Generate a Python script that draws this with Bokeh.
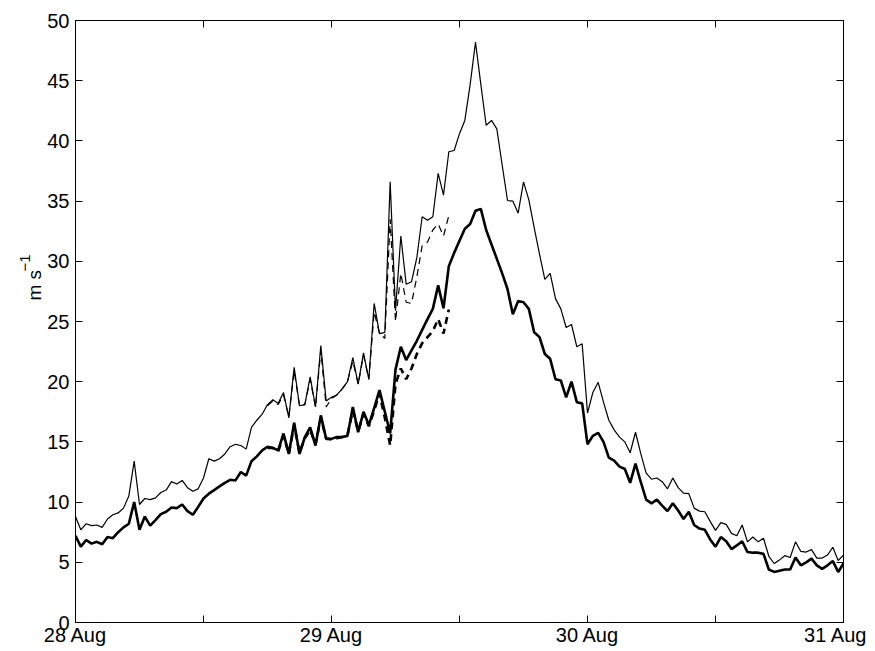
from bokeh.plotting import figure
from bokeh.models import FixedTicker, LinearAxis, Range1d, Title
from bokeh.embed import file_html
from bokeh.resources import INLINE

# time in hours from 28 Aug 00 UTC, half-hourly
hours = [i * 0.5 for i in range(145)]

upper_solid = [
    8.8, 7.7, 8.2, 8.05, 8.1, 7.9, 8.6, 8.95, 9.1, 9.5, 10.5, 13.4, 9.8, 10.3, 10.2, 10.35, 10.8, 11.0, 11.7, 11.5, 11.8, 11.2, 10.9, 11.1, 12.0,
    13.6, 13.4, 13.6, 14.0, 14.6, 14.8, 14.7, 14.4, 16.2, 16.8, 17.3, 18.1, 18.5, 18.2, 19.1, 17.0, 21.2, 18.0, 18.1, 20.4, 17.9, 23.0, 18.4, 18.7,
    18.9, 19.4, 20.0, 22.0, 19.8, 22.4, 20.2, 26.5, 24.0, 24.1, 36.6, 25.9, 32.1, 28.1, 28.3, 30.3, 33.7, 33.4, 33.7, 37.3, 35.5, 39.1, 39.2, 40.6,
    41.7, 44.7, 48.2, 44.7, 41.3, 41.7, 41.0, 38.0, 35.05, 35.0, 34.0, 36.6, 35.1, 32.8, 30.6, 28.5, 29.0, 26.9, 26.05, 24.5, 24.75, 22.9, 23.15, 17.4,
    19.1, 19.95, 18.3, 16.8, 16.0, 15.4, 15.0, 14.1, 15.8, 14.0, 12.4, 11.9, 12.0, 11.7, 11.1, 12.0, 11.2, 10.75, 10.7, 9.5, 9.25, 9.2, 8.4, 7.65,
    8.3, 8.15, 7.4, 7.2, 8.1, 6.7, 7.1, 6.7, 7.0, 5.5, 4.9, 5.2, 5.55, 5.4, 6.7, 5.9, 5.85, 6.05, 5.35, 5.35, 5.6, 6.25, 5.15, 5.6,
]

lower_solid = [
    7.2, 6.3, 6.85, 6.55, 6.7, 6.5, 7.1, 7.0, 7.5, 7.9, 8.2, 10.0, 7.7, 8.8, 8.05, 8.5, 9.0, 9.2, 9.55, 9.5, 9.8, 9.25, 8.95, 9.6, 10.3,
    10.7, 11.0, 11.3, 11.6, 11.85, 11.8, 12.5, 12.2, 13.4, 13.8, 14.3, 14.6, 14.5, 14.3, 15.7, 14.0, 16.6, 14.0, 15.4, 16.2, 14.7, 17.2, 15.25, 15.25,
    15.4, 15.4, 15.5, 17.9, 15.8, 17.5, 16.4, 17.8, 19.3, 17.5, 15.7, 21.0, 22.9, 21.8, 22.6, 23.4, 24.3, 25.2, 26.05, 28.0, 26.1, 29.6, 30.7, 31.7,
    32.7, 33.1, 34.2, 34.35, 32.6, 31.4, 30.2, 29.0, 27.7, 25.6, 26.7, 26.6, 26.05, 24.1, 23.7, 22.3, 21.9, 20.2, 20.1, 18.7, 20.0, 18.3, 18.2, 14.8,
    15.5, 15.75, 15.0, 13.7, 13.45, 12.95, 12.75, 11.6, 13.2, 11.65, 10.2, 9.9, 10.2, 9.7, 9.25, 9.9, 9.3, 8.6, 9.2, 8.1, 7.8, 7.7, 6.9, 6.3,
    7.1, 6.75, 6.1, 6.4, 6.75, 5.85, 5.8, 5.8, 5.7, 4.4, 4.2, 4.3, 4.4, 4.4, 5.4, 4.75, 5.0, 5.3, 4.75, 4.45, 4.75, 5.1, 4.2, 4.9,
]

# dashed series cover 28 Aug 18 UTC to 29 Aug 11 UTC
dash_hours = [18 + i * 0.5 for i in range(35)]

upper_dashed = [
    18.0, 18.4, 18.1, 18.9, 17.1, 20.9, 18.0, 18.1, 20.2, 17.9, 22.6, 17.9, 18.6, 18.9, 19.4, 20.0, 21.7, 19.8,
    22.2, 20.2, 25.8, 24.0, 23.6, 33.5, 25.0, 29.0, 26.6, 26.5, 28.7, 31.3, 31.6, 32.6, 33.1, 32.1, 33.8,
]

lower_dashed = [
    14.5, 14.5, 14.2, 15.5, 14.0, 16.4, 14.1, 15.3, 16.0, 14.8, 17.0, 15.3, 15.2, 15.3, 15.4, 15.6, 17.6, 15.9,
    17.3, 16.3, 17.6, 19.0, 17.0, 14.7, 19.8, 21.1, 20.2, 21.1, 22.3, 23.2, 23.7, 24.2, 25.2, 24.0, 26.0,
]

day_ticks = [0, 24, 48, 72]
day_labels = {0: "28 Aug", 24: "29 Aug", 48: "30 Aug", 72: "31 Aug"}
halfday_ticks = [12, 36, 60]
all_x_ticks = [0, 12, 24, 36, 48, 60, 72]
y_ticks = [0, 5, 10, 15, 20, 25, 30, 35, 40, 45, 50]
y_unit = "m s"
y_unit_exp = "\u22121"

FONT = "Liberation Sans"
TICK_LEN = 7

p = figure(width=867, height=649, output_backend="svg", toolbar_location=None,
           x_range=Range1d(0, 72), y_range=Range1d(0, 50),
           min_border_left=75, min_border_right=24, min_border_top=20, min_border_bottom=27)
p.background_fill_color = "white"
p.border_fill_color = "white"
p.outline_line_color = "black"
p.outline_line_width = 1
p.xgrid.visible = False
p.ygrid.visible = False

p.line(hours, upper_solid, line_color="black", line_width=1.2)
p.line(hours, lower_solid, line_color="black", line_width=2.6)
p.line(dash_hours, upper_dashed, line_color="black", line_width=1.2, line_dash="7 5")
p.line(dash_hours, lower_dashed, line_color="black", line_width=2.6, line_dash="7 5")


def style(ax):
    ax.axis_line_color = "black"
    ax.axis_line_width = 1
    ax.major_tick_in = TICK_LEN
    ax.major_tick_out = 0
    ax.minor_tick_in = TICK_LEN
    ax.minor_tick_out = 0
    ax.major_tick_line_color = "black"
    ax.minor_tick_line_color = "black"
    ax.major_label_text_font = FONT
    ax.major_label_text_color = "black"


xa = p.xaxis[0]
xa.ticker = FixedTicker(ticks=day_ticks, minor_ticks=halfday_ticks)
xa.major_label_overrides = day_labels
xa.major_label_standoff = 1
xa.major_label_text_font_size = "20px"
style(xa)

ya = p.yaxis[0]
ya.ticker = FixedTicker(ticks=y_ticks, minor_ticks=[])
ya.major_label_standoff = 6
ya.major_label_text_font_size = "20px"
style(ya)

top = LinearAxis(ticker=FixedTicker(ticks=[], minor_ticks=all_x_ticks))
style(top)
p.add_layout(top, "above")
right = LinearAxis(ticker=FixedTicker(ticks=[], minor_ticks=y_ticks))
style(right)
p.add_layout(right, "right")

# y-axis unit label (rotated), with a raised exponent placed just outside it
p.add_layout(Title(text=y_unit, align="left", offset=322, standoff=0,
                   text_font=FONT, text_font_size="19px", text_font_style="normal",
                   text_color="black"), "left")
p.add_layout(Title(text=y_unit_exp, align="left", offset=351, standoff=-16,
                   text_font=FONT, text_font_size="15px", text_font_style="normal",
                   text_color="black"), "left")

open("out.html", "w").write(file_html(p, INLINE))
